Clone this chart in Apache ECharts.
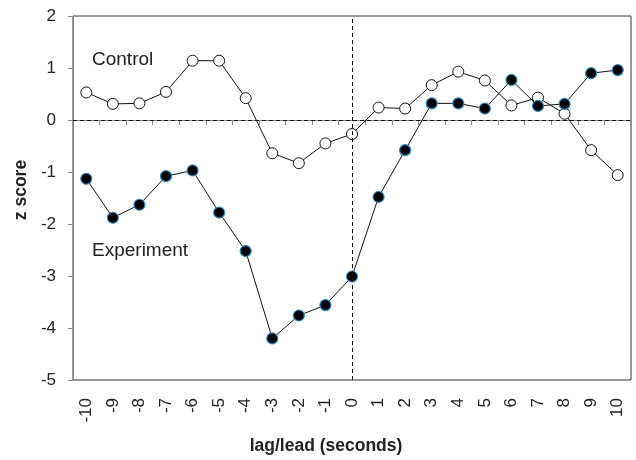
<!DOCTYPE html>
<html><head><meta charset="utf-8">
<script src="https://cdn.jsdelivr.net/npm/echarts@6/dist/echarts.min.js"></script>
<style>html,body{margin:0;padding:0;background:#fff}#c{width:636px;height:460px}</style>
</head><body><div id="c"></div>
<script>
const categories = ['-10','-9','-8','-7','-6','-5','-4','-3','-2','-1','0','1','2','3','4','5','6','7','8','9','10'];
const control = [0.53,0.31,0.32,0.54,1.14,1.14,0.42,-0.64,-0.83,-0.45,-0.27,0.24,0.22,0.67,0.93,0.76,0.28,0.43,0.12,-0.58,-1.06];
const experiment = [-1.13,-1.88,-1.63,-1.08,-0.97,-1.78,-2.52,-4.20,-3.76,-3.56,-3.01,-1.48,-0.58,0.32,0.32,0.22,0.77,0.27,0.31,0.90,0.96];
const yTicks = [-5,-4,-3,-2,-1,0,1,2];

const chart = echarts.init(document.getElementById('c'));
const font = 'Liberation Sans, Arial, sans-serif';
chart.setOption({
  animation: false,
  grid: {left: 73, right: 5, top: 16, bottom: 80, show: true, borderColor: '#333', borderWidth: 1},
  xAxis: {
    type: 'category', data: categories, boundaryGap: true,
    name: 'lag/lead (seconds)', nameLocation: 'middle', nameGap: 57,
    nameTextStyle: {fontFamily: font, fontSize: 17.5, fontWeight: 'bold', color: '#222', padding: [0, 52, 0, 0]},
    axisLine: {lineStyle: {color: '#888'}},
    axisTick: {show: true, alignWithLabel: false, length: 5, lineStyle: {color: '#888'}},
    axisLabel: {rotate: 90, fontFamily: font, fontSize: 17, color: '#222', margin: 18},
    splitLine: {show: false}
  },
  yAxis: {
    type: 'value', min: -5, max: 2, interval: 1,
    name: 'z score', nameLocation: 'middle', nameGap: 43,
    nameTextStyle: {fontFamily: font, fontSize: 17.5, fontWeight: 'bold', color: '#222', padding: [0, 0, 0, 16]},
    axisLine: {show: true, lineStyle: {color: '#888'}},
    axisTick: {show: true, length: 5, lineStyle: {color: '#888'}},
    axisLabel: {fontFamily: font, fontSize: 17, color: '#222', margin: 17,
      formatter: v => yTicks.includes(v) ? String(v) : ''},
    splitLine: {show: false}
  },
  series: [
    {
      name: 'Control', type: 'line', data: control,
      symbol: 'circle', symbolSize: 11,
      lineStyle: {color: '#111', width: 1},
      itemStyle: {color: '#fff', borderColor: '#111', borderWidth: 1},
      z: 3,
      markLine: {
        silent: true, symbol: 'none', label: {show: false},
        lineStyle: {color: '#111', type: [4, 3], width: 1},
        data: [{yAxis: 0}, {xAxis: '0'}]
      }
    },
    {
      name: 'Experiment', type: 'line', data: experiment,
      symbol: 'circle', symbolSize: 11,
      lineStyle: {color: '#111', width: 1},
      itemStyle: {color: '#000', borderColor: '#2a8ac8', borderWidth: 1.2},
      z: 4
    }
  ],
  graphic: [
    {type: 'text', left: 92, top: 50, style: {text: 'Control', font: '19px ' + font, fill: '#222'}},
    {type: 'text', left: 92, top: 241, style: {text: 'Experiment', font: '19px ' + font, fill: '#222'}}
  ]
});
</script></body></html>
